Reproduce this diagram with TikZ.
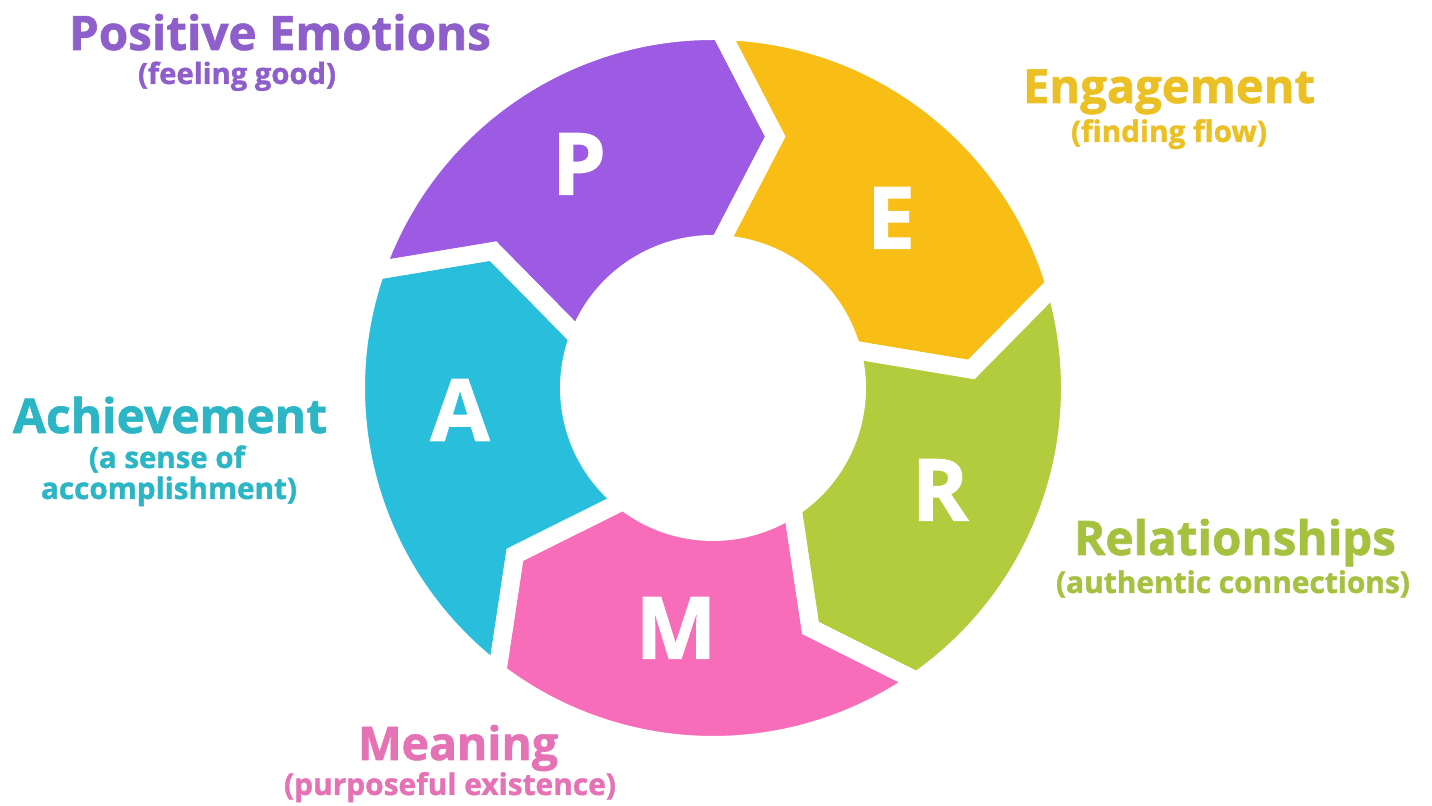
\documentclass[tikz,border=0pt]{standalone}
\usepackage{fontspec}
\setmainfont{Open Sans}[BoldFeatures={FakeBold=1.3}]
\usepackage{graphicx}

% segment fills
\definecolor{pcol}{HTML}{9C5BE2}
\definecolor{ecol}{HTML}{F8BE16}
\definecolor{rcol}{HTML}{B3CC3D}
\definecolor{mcol}{HTML}{F76DBA}
\definecolor{acol}{HTML}{28BEDC}
% caption colours
\definecolor{ptxt}{HTML}{8E5FCB}
\definecolor{etxt}{HTML}{EBC024}
\definecolor{rtxt}{HTML}{A5C13F}
\definecolor{mtxt}{HTML}{E572B5}
\definecolor{atxt}{HTML}{2BB5C5}

\begin{document}
\begin{tikzpicture}[x=0.5pt,y=0.5pt,
  letter/.style={text=white, font=\bfseries\fontsize{43}{43}\selectfont, inner sep=0pt},
  caption/.style={anchor=base, inner sep=0pt, font=\bfseries\fontsize{22}{22}\selectfont},
  subcaption/.style={anchor=base, inner sep=0pt, font=\bfseries\fontsize{13}{13}\selectfont},
]
\useasboundingbox (0,0) rectangle (1432,806);

% ring radii (outer, inner, chevron tip) and chevron offsets
\def\Ro{357}\def\Ri{144}\def\Rm{259}\def\dd{12.7}\def\di{1.3}

\begin{scope}[shift={(713,418)}]
  % coloured chevron segments, clockwise P -> E -> R -> M -> A
  \foreach \t/\l/\c in {160.8/88.8/pcol, 88.8/16.8/ecol, 16.8/-55.2/rcol,
                        -55.2/-127.2/mcol, -127.2/-199.2/acol}{
    \fill[\c] (\t:\Ro) arc[start angle=\t, end angle=\l, radius=\Ro]
      -- ({\l-\dd}:\Rm) -- ({\l-\di}:\Ri)
      arc[start angle={\l-\di}, end angle={\t-\di}, radius=\Ri]
      -- ({\t-\dd}:\Rm) -- cycle;
  }
  % white gaps between the segments
  \foreach \t/\l in {160.8/88.8, 88.8/16.8, 16.8/-55.2, -55.2/-127.2, -127.2/-199.2}{
    \draw[white, line width=9pt, line join=miter] (\t:\Ro) arc[start angle=\t, end angle=\l, radius=\Ro]
      -- ({\l-\dd}:\Rm) -- ({\l-\di}:\Ri)
      arc[start angle={\l-\di}, end angle={\t-\di}, radius=\Ri]
      -- ({\t-\dd}:\Rm) -- cycle;
  }
\end{scope}

% segment letters
\node[letter] (lp) at (579,642) {P};
\node[letter] (le) at (891,588) {E};
\node[letter] (lr) at (940,316) {R};
\node[letter] (lm) at (676,178) {M};
\node[letter] (la) at (460,396) {A};

% captions
\node[caption, text=ptxt] (cp) at (280,756) {\resizebox{211pt}{!}{Positive Emotions}};
\node[subcaption, text=ptxt] (sp) at (237,722) {\resizebox{99pt}{!}{(feeling good)}};

\node[caption, text=etxt] (ce) at (1169,703) {\resizebox{146pt}{!}{Engagement}};
\node[subcaption, text=etxt] (se) at (1169,664) {\resizebox{98pt}{!}{(finding flow)}};

\node[caption, text=atxt] (ca) at (170,373) {\resizebox{157pt}{!}{Achievement}};
\node[subcaption, text=atxt] (sa1) at (167,338) {\resizebox{78pt}{!}{(a sense of}};
\node[subcaption, text=atxt] (sa2) at (169,307) {\resizebox{128pt}{!}{accomplishment)}};

\node[caption, text=rtxt] (cr) at (1235,251) {\resizebox{161pt}{!}{Relationships}};
\node[subcaption, text=rtxt] (sr) at (1233,213) {\resizebox{177pt}{!}{(authentic connections)}};

\node[caption, text=mtxt] (cm) at (458,46) {\resizebox{100pt}{!}{Meaning}};
\node[subcaption, text=mtxt] (sm) at (450,11) {\resizebox{166pt}{!}{(purposeful existence)}};
\end{tikzpicture}
\end{document}
